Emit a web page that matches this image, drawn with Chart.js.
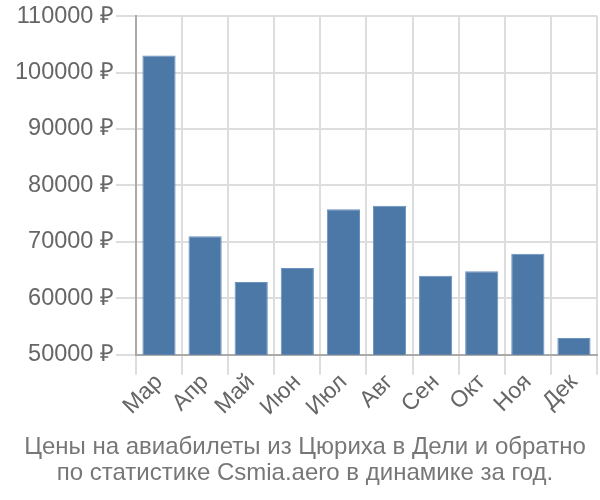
<!DOCTYPE html>
<html><head><meta charset="utf-8">
<script src="https://cdn.jsdelivr.net/npm/chart.js@4"></script>
<style>html,body{margin:0;padding:0;background:#fff}#w{width:600px;height:500px}</style>
</head><body><div id="w"><canvas id="c"></canvas></div>
<script>
const categories = ["Мар","Апр","Май","Июн","Июл","Авг","Сен","Окт","Ноя","Дек"];
const prices = [103000, 71000, 62900, 65400, 75800, 76400, 64000, 64800, 67900, 53000];
const titleLines = ["Цены на авиабилеты из Цюриха в Дели и обратно","по статистике Csmia.aero в динамике за год."];
Chart.defaults.font.family = "'Liberation Sans', Arial, sans-serif";
new Chart(document.getElementById('c'), {
  type: 'bar',
  data: { labels: categories, datasets: [{ data: prices, backgroundColor: '#4c78a8', borderColor: '#6a90bd', borderWidth: 1 }] },
  options: {
    responsive: true, maintainAspectRatio: false, animation: false,
    layout: { padding: { left: 13, right: 3, top: 2, bottom: 14 } },
    plugins: {
      legend: { display: false }, tooltip: { enabled: false },
      title: { display: true, position: 'bottom', text: titleLines, color: '#777', font: { size: 24, weight: 'normal', lineHeight: 1.08 }, padding: { top: 19, bottom: 0 } }
    },
    scales: {
      x: {
        grid: { color: '#ddd', lineWidth: 2, tickLength: 20, offset: true },
        border: { color: '#aaa', width: 2 },
        ticks: { color: '#666', font: { size: 23, lineHeight: 0.45 }, maxRotation: 45, minRotation: 45, padding: 0 }
      },
      y: {
        min: 50000, max: 110000,
        grid: { color: '#ddd', lineWidth: 2, tickLength: 20 },
        border: { color: '#aaa', width: 2 },
        ticks: { stepSize: 10000, color: '#666', font: { size: 23.5 }, padding: 2, callback: v => v + ' ₽' }
      }
    }
  }
});
</script></body></html>
